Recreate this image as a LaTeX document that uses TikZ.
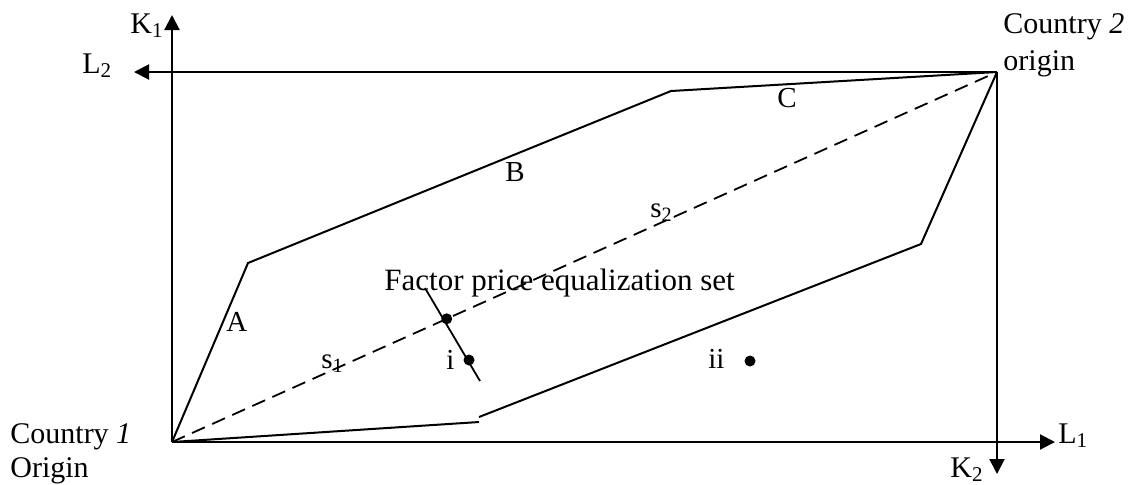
\documentclass[tikz,border=0pt]{standalone}
\usepackage{fontspec}
\setmainfont{Liberation Serif}
\usepackage{tikz}
\usetikzlibrary{arrows.meta, calc}
\definecolor{eline}{HTML}{000000}
\tikzset{
  axis/.style={-{Triangle[width=7.5pt,length=7.5pt]}, line width=1pt, eline},
  edge/.style={line width=1pt, eline, line join=miter},
  diag/.style={line width=0.9pt, eline, dash pattern=on 7pt off 4pt},
  fpe/.style={line width=0.9pt, eline},
  dot/.style={circle, fill=eline, inner sep=0pt, minimum size=5.5pt},
  lbl/.style={anchor=base west, inner sep=0pt, font=\fontsize{15pt}{18.5pt}\selectfont},
  slbl/.style={anchor=base west, inner sep=0pt, font=\fontsize{14.5pt}{18pt}\selectfont},
}

\begin{document}
\begin{tikzpicture}[x=0.5pt, y=-0.5pt]
  \useasboundingbox (0,0) rectangle (1138,484);

  \coordinate (O1) at (172,442);
  \coordinate (O2) at (997,72);
  \coordinate (k1tip) at (172,15);
  \coordinate (l1tip) at (1055,442);
  \coordinate (l2tip) at (134,72);
  \coordinate (k2tip) at (997,474);

  \coordinate (pA) at (248,263);
  \coordinate (pB) at (671,91);
  \coordinate (pC) at (921,244);
  \coordinate (pDlo) at (479,422);
  \coordinate (pDhi) at (479,417);

  \draw[axis] (O1) -- (k1tip);
  \draw[axis] (O1) -- (l1tip);
  \draw[axis] (O2) -- (l2tip);
  \draw[axis] (O2) -- (k2tip);

  \draw[edge] (O1) -- (pA) -- (pB) -- (O2);
  \draw[edge] (O1) -- (pDlo);
  \draw[edge] (pDhi) -- (pC) -- (O2);

  \draw[diag] (O1) -- (O2);

  \coordinate (fpetop) at (425,288);
  \coordinate (fpebot) at (480,381);
  \draw[fpe] (fpetop) -- (fpebot);
  \node[dot] (eq) at ($(O1)!0.333!(O2)$) {};
  \node[dot] (pti) at (469,360) {};
  \node[dot] (ptii) at (750,361) {};

  \node[lbl] (k1) at (130,33) {K\textsubscript{1}};
  \node[lbl] (l2) at (82,73) {L\textsubscript{2}};
  \node[lbl] (l1) at (1058,443) {L\textsubscript{1}};
  \node[lbl] (k2) at (950,477) {K\textsubscript{2}};

  \node[lbl] (cty2) at (1003,33) {Country \textit{2}};
  \node[lbl] (org2) at (1003,70) {origin};
  \node[lbl] (cty1) at (10,443) {Country \textit{1}};
  \node[lbl] (org1) at (10,477) {Origin};

  \node[slbl] (la) at (226,331) {A};
  \node[slbl] (lb) at (505,181) {B};
  \node[slbl] (lc) at (777,107) {C};
  \node[slbl] (ls1) at (321,368) {s\textsubscript{1}};
  \node[slbl] (ls2) at (650,217) {s\textsubscript{2}};
  \node[slbl] (li) at (446,369) {i};
  \node[slbl] (lii) at (708,368) {ii};
  \node[lbl, font=\fontsize{15.5pt}{18.5pt}\selectfont] (fpeset) at (384,290) {Factor price equalization set};
\end{tikzpicture}
\end{document}
